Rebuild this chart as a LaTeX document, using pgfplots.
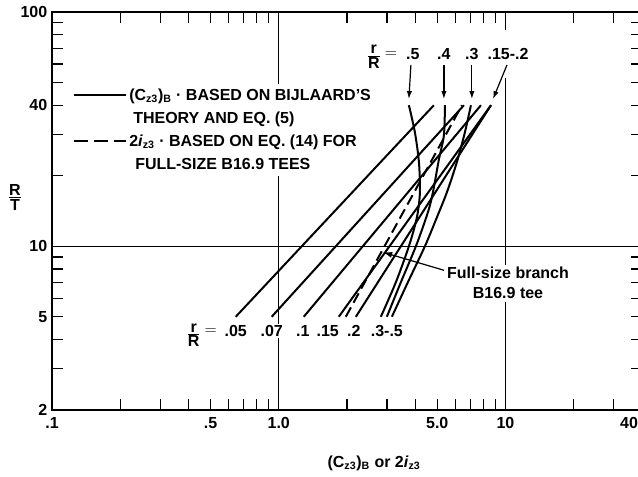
\documentclass[border=0pt]{standalone}
\usepackage{fontspec}
\setmainfont{Liberation Sans}
\usepackage{pgfplots}
\pgfplotsset{compat=1.18}
\usetikzlibrary{arrows.meta}
\begin{document}
\begin{tikzpicture}[font=\bfseries\fontsize{12}{15}\selectfont]
\begin{axis}[
  at={(0,0)}, anchor=south west,
  scale only axis, width=442.5pt, height=298.5pt,
  xmode=log, ymode=log,
  xmin=0.1, xmax=40, ymin=2, ymax=100,
  clip=false,
  axis line style={line width=1.2pt},
  tick align=inside, tick pos=both,
  major tick length=8pt, minor tick length=8pt,
  tick style={black, line width=0.9pt},
  xtick={1,10}, xticklabels={1.0,10},
  ytick={10}, yticklabels={10},
  grid=major,
  major grid style={black, line width=0.8pt},
  extra x ticks={0.1,0.5,5,40},
  extra x tick labels={.1,.5,5.0,\makebox[0pt][r]{40\hspace{3pt}}},
  extra y ticks={2,5,40,100},
  extra y tick labels={2,5,40,100},
  extra tick style={grid=none},
  minor xtick={0.2,0.3,0.4,0.6,0.7,0.8,0.9,2,3,4,6,7,8,9,20,30},
  minor ytick={3,4,6,7,8,9,20,30,50,60,70,80,90},
  tick label style={font=\bfseries\fontsize{12}{14}\selectfont},
  xticklabel style={yshift=-2pt},
  xlabel={(C\textsubscript{z3})\textsubscript{B} or 2\textit{i}\textsubscript{z3}},
  xlabel style={at={(axis description cs:0.5458,-0.1332)}, anchor=center},
  ylabel={${\mbox{R}\above 0.8pt\mbox{T}}$},
  ylabel style={at={(axis description cs:-0.0627,0.535)}, anchor=center, rotate=-90},
  legend style={at={(axis description cs:0.0356,0.8204)}, anchor=north west,
    draw=none, fill=none, inner sep=0pt, row sep=0pt, column sep=1.5pt,
    nodes={inner xsep=0pt, inner ysep=3.375pt, fill=white},
    font=\bfseries\fontsize{12}{15}\selectfont},
  legend cell align=left,
  legend image code/.code={\draw[#1] (0pt,0pt) -- (39pt,0pt);},
]
% legend
\addlegendimage{black, line width=1.5pt}
\addlegendentry{\rule[-3pt]{0pt}{12pt}(C\textsubscript{z3})\textsubscript{B} · BASED ON BIJLAARD'S}
\addlegendimage{empty legend}
\addlegendentry{\rule[-12.75pt]{0pt}{21.75pt}\hspace*{3pt}THEORY AND EQ. (5)}
\addlegendimage{black, line width=1.5pt, dash pattern=on 10pt off 5pt}
\addlegendentry{\rule[-3pt]{0pt}{12pt}2\textit{i}\textsubscript{z3} · BASED ON EQ. (14) FOR}
\addlegendimage{empty legend}
\addlegendentry{\rule[-3pt]{0pt}{12pt}\hspace*{4.5pt}FULL-SIZE B16.9 TEES}

% straight Bijlaard lines r/R = .05 ... .2
\addplot[black, line width=1.5pt, forget plot] coordinates {(0.646,5) (4.834,40)};
\addplot[black, line width=1.5pt, forget plot] coordinates {(0.931,5) (6.559,40)};
\addplot[black, line width=1.5pt, forget plot] coordinates {(1.289,5) (7.796,40)};
\addplot[black, line width=1.5pt, forget plot] coordinates {(1.840,5) (8.630,40)};
\addplot[black, line width=1.5pt, forget plot] coordinates {(2.188,5) (8.630,40)};
% curved lines r/R = .5, .4, .3
\addplot[black, line width=1.5pt, smooth, tension=0.5, forget plot] coordinates {
  (2.820,5) (3.285,7.02) (3.750,10) (4.068,13.3) (4.194,17.0) (4.151,22.9) (3.985,30.7) (3.750,40)};
\addplot[black, line width=1.5pt, smooth, tension=0.5, forget plot] coordinates {
  (2.998,5) (3.456,7.02) (4.026,10) (4.549,13.97) (4.786,17.0) (5.087,23.5) (5.351,29.8) (5.407,40)};
\addplot[black, line width=1.5pt, smooth, tension=0.5, forget plot] coordinates {
  (3.155,5) (3.711,7.02) (4.412,10) (4.985,13.3) (5.516,17.0) (6.107,22.9) (6.625,30.7) (7.041,40)};
% dashed: 2 i_z3 full-size B16.9 tees
\addplot[black, line width=1.5pt, dash pattern=on 8pt off 4pt, forget plot] coordinates {(1.976,5) (6.427,40)};

% top labels
\node at (axis cs:2.627,64.2) {${\mbox{r}\above 0.8pt\mbox{R}}$};
\node at (axis cs:3.123,66) {$=$};
\node at (axis cs:3.905,66) {.5};
\node at (axis cs:5.35,66) {.4};
\node at (axis cs:7.11,66) {.3};
\node[fill=white, inner xsep=1pt, minimum height=36pt] at (axis cs:10.26,66) {.15-.2};
\draw[line width=0.9pt, -{Latex[length=6pt,width=4pt]}] (axis cs:3.827,59.4) -- (axis cs:3.75,42.5);
\draw[line width=0.9pt, -{Latex[length=6pt,width=4pt]}] (axis cs:5.35,59.4) -- (axis cs:5.35,42.5);
\draw[line width=0.9pt, -{Latex[length=6pt,width=4pt]}] (axis cs:7.11,59.4) -- (axis cs:7.11,42.5);
\draw[line width=0.9pt, -{Latex[length=6pt,width=4pt]}] (axis cs:10.15,59.4) -- (axis cs:8.81,42.5);

% bottom labels
\node at (axis cs:0.4213,4.17) {${\mbox{r}\above 0.8pt\mbox{R}}$};
\node at (axis cs:0.5008,4.33) {$=$};
\node[fill=white, inner sep=1pt] at (axis cs:0.646,4.33) {.05};
\node[fill=white, inner sep=1pt] at (axis cs:0.931,4.33) {.07};
\node[fill=white, inner sep=1pt] at (axis cs:1.276,4.33) {.1};
\node[fill=white, inner sep=1pt] at (axis cs:1.645,4.33) {.15};
\node[fill=white, inner sep=1pt] at (axis cs:2.144,4.33) {.2};
\node[fill=white, inner sep=1pt] at (axis cs:2.998,4.33) {.3-.5};

% full-size branch annotation
\node[fill=white, inner sep=2pt, align=center] at (axis cs:10.26,6.95) {Full-size branch\\B16.9 tee};
\draw[line width=0.9pt, -{Latex[length=7pt,width=4.5pt]}] (axis cs:5.35,7.90) -- (axis cs:2.879,9.43);
\end{axis}
\pgfresetboundingbox
\path (-39pt,-50.25pt) rectangle (439.5pt,307.5pt);
\end{tikzpicture}
\end{document}
